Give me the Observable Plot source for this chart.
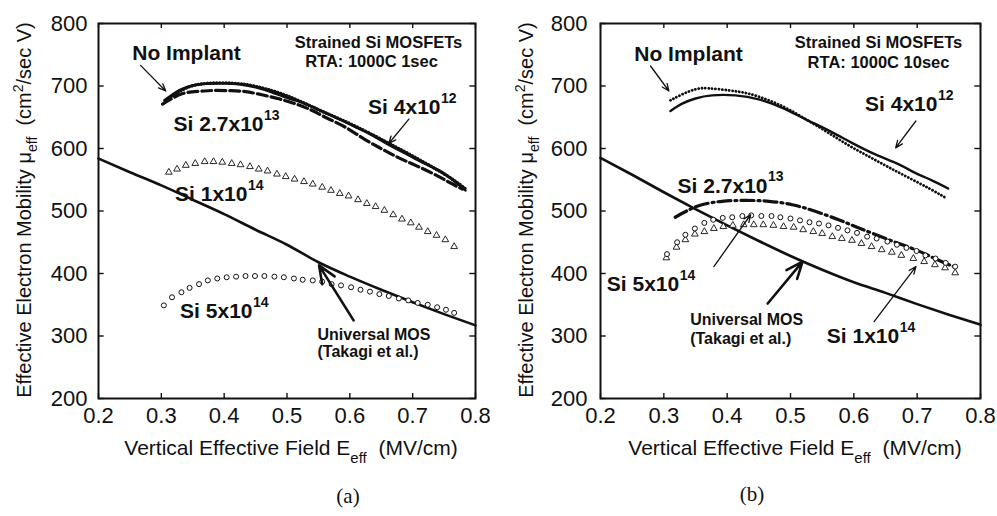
<!DOCTYPE html>
<html><head><meta charset="utf-8">
<script src="https://cdn.jsdelivr.net/npm/d3@7"></script>
<script src="https://cdn.jsdelivr.net/npm/@observablehq/plot@0.6"></script>
<style>
body{margin:0;background:#fff;}
#wrap{position:relative;width:997px;height:516px;overflow:hidden;background:#fff;}
.panel{position:absolute;top:0;}
.cap{position:absolute;font-family:"Liberation Serif","Times New Roman",serif;font-size:21px;color:#111;transform:translate(-50%,-50%);}
</style></head><body><div id="wrap"></div>
<script>
// ---------- axes ----------
const xTicks = [0.2, 0.3, 0.4, 0.5, 0.6, 0.7, 0.8];
const yTicks = [200, 300, 400, 500, 600, 700, 800];

// ---------- panel (a): RTA 1000C 1sec ----------
const aUnivX = [0.2,0.25,0.3,0.35,0.4,0.45,0.5,0.55,0.6,0.65,0.7,0.75,0.8];
const aUnivY = [584,562,541,518,495,470,446,418,395,374,354,335,317];
const aNoImplantX = [0.305,0.32,0.34,0.37,0.40,0.423,0.45,0.476,0.50,0.529,0.555,0.582,0.61,0.636,0.66,0.689,0.715,0.742,0.765,0.784];
const aNoImplantY = [677,688,698,703.5,704,703,698,690,681,671.5,660,647.5,634,621,607,592,578,565,549,533];
const aSi4e12X = [0.31,0.34,0.37,0.40,0.43,0.46,0.49,0.52,0.55,0.58,0.61,0.64,0.67,0.70,0.73,0.76,0.786];
const aSi4e12Y = [679,697,704,705,703,697,688,676,662,649,635,620,604,588,571,553,534];
const aSi27e13X = [0.302,0.333,0.36,0.381,0.41,0.434,0.46,0.487,0.515,0.54,0.565,0.593,0.62,0.646,0.67,0.699,0.73,0.758,0.779];
const aSi27e13Y = [671,687.5,691.5,692.8,692.5,691,686,679.5,671,660.8,648,634,617,602,589,575.5,561,546,535];
const aSi1e14X = [0.312,0.325,0.339,0.354,0.369,0.383,0.397,0.412,0.426,0.441,0.455,0.469,0.484,0.498,0.512,0.527,0.541,0.556,0.570,0.584,0.598,0.613,0.627,0.641,0.655,0.669,0.683,0.697,0.710,0.724,0.738,0.752,0.766];
const aSi1e14Y = [562,567,573,576,579,579,578,576,574,571,567,564,559,555,551,547,543,538,533,528,524,518,512,507,501,494,487,481,474,467,461,454,443];
const aSi5e14X = [0.304,0.317,0.332,0.345,0.36,0.374,0.389,0.404,0.419,0.434,0.449,0.464,0.480,0.495,0.511,0.525,0.541,0.556,0.571,0.586,0.602,0.617,0.632,0.647,0.662,0.678,0.693,0.708,0.724,0.739,0.753,0.766];
const aSi5e14Y = [349,362,370,377,383,389,392,394,395,396,396,396,395,394,392,390,389,387,383,381,378,374,371,367,364,360,357,353,350,346,342,337];
const aSiLabels = [
  {x:0.4626, y:639, base:"Si 2.7x10", sup:"13"},
  {x:0.7443, y:666, base:"Si 4x10", sup:"12"},
  {x:0.4371, y:527, base:"Si 1x10", sup:"14"},
  {x:0.4451, y:339, base:"Si 5x10", sup:"14"}
];
const aMain = [{x:0.340, y:752, text:"No Implant"}];
const aNotes = [{x:0.6457, y:770, text:"Strained Si MOSFETs"}, {x:0.6345, y:739, text:"RTA: 1000C 1sec"}];
const aRef = [{x:0.5486, y:302, text:"Universal MOS"}, {x:0.5486, y:275, text:"(Takagi et al.)"}];
const aThinArrows = [{x1:0.267,y1:733,x2:0.307,y2:692},{x1:0.694,y1:647,x2:0.662,y2:608}];
const aThickArrows = [{x1:0.606,y1:325,x2:0.551,y2:413}];

// ---------- panel (b): RTA 1000C 10sec ----------
const bUnivX = [0.2,0.25,0.3,0.35,0.4,0.45,0.5,0.55,0.6,0.65,0.7,0.75,0.8];
const bUnivY = [585,558,530,503,477,452,428,406,386,369,351,334,318];
const bNoImplantX = [0.3105,0.329,0.35,0.371,0.403,0.434,0.466,0.497,0.529,0.560,0.592,0.624,0.655,0.687,0.719,0.747];
const bNoImplantY = [677,686.7,694.7,696.3,693,687.7,677,662.6,644,625,605,587,570,553,536,520];
const bSi4e12X = [0.3105,0.329,0.35,0.376,0.413,0.45,0.487,0.524,0.560,0.597,0.634,0.671,0.697,0.724,0.749];
const bSi4e12Y = [660,671.7,680,685,685,678.7,665,646.6,629,609,590.5,574.5,561,548.7,536];
const bSi27e13X = [0.318,0.337,0.360,0.392,0.429,0.466,0.503,0.539,0.576,0.605,0.635,0.668,0.70,0.732,0.758];
const bSi27e13Y = [490,500.6,510,515.5,517,515.5,510,499.5,486,474,462,449,437,422,411];
const bSi5e14X = [0.305,0.321,0.334,0.349,0.364,0.378,0.393,0.408,0.424,0.438,0.454,0.47,0.484,0.5,0.515,0.53,0.545,0.56,0.575,0.59,0.605,0.621,0.636,0.653,0.668,0.683,0.699,0.713,0.729,0.745,0.76];
const bSi5e14Y = [431,450,462,472,481,486,489,490,492,493,492,492,490,488,485,482,480,477,473,469,465,459,456,451,446,441,436,429,424,417,411];
const bSi1e14X = [0.304,0.32,0.334,0.349,0.364,0.379,0.394,0.409,0.426,0.442,0.457,0.473,0.489,0.505,0.520,0.536,0.55,0.566,0.581,0.597,0.612,0.628,0.644,0.66,0.675,0.694,0.711,0.728,0.744,0.76];
const bSi1e14Y = [425,442,454,463,467,472,475,477,478,478,478,477,475,474,470,467,464,459,456,453,448,443,438,434,429,424,419,414,409,401];
const bSiLabels = [
  {x:0.4637, y:540, base:"Si 2.7x10", sup:"13"},
  {x:0.732, y:670, base:"Si 4x10", sup:"12"},
  {x:0.3243, y:383, base:"Si 5x10", sup:"14"},
  {x:0.6717, y:299, base:"Si 1x10", sup:"14"}
];
const bMain = [{x:0.339, y:751, text:"No Implant"}];
const bNotes = [{x:0.639, y:770, text:"Strained Si MOSFETs"}, {x:0.639, y:738, text:"RTA: 1000C 10sec"}];
const bRef = [{x:0.3416, y:326, text:"Universal MOS"}, {x:0.3416, y:295, text:"(Takagi et al.)"}];
const bThinArrows = [{x1:0.279,y1:732,x2:0.308,y2:692},{x1:0.698,y1:644,x2:0.666,y2:601},{x1:0.379,y1:411,x2:0.437,y2:494},{x1:0.632,y1:323,x2:0.698,y2:411}];
const bThickArrows = [{x1:0.464,y1:352,x2:0.519,y2:419}];

const captions = ["(a)", "(b)"];

// ---------- drawing ----------
const ink = "#111";
const FONT = "'Liberation Sans', Arial, Helvetica, sans-serif";
const pts = (xs, ys) => xs.map((x, i) => ({x, y: ys[i]}));

function panel(cfg) {
  const marks = [
    Plot.ruleX(xTicks, {x: d => d, y1: 200, y2: 208, stroke: ink, strokeWidth: 1.4}),
    Plot.ruleX(xTicks, {x: d => d, y1: 792, y2: 800, stroke: ink, strokeWidth: 1.4}),
    Plot.ruleY(yTicks, {y: d => d, x1: 0.2, x2: 0.209, stroke: ink, strokeWidth: 1.4}),
    Plot.ruleY(yTicks, {y: d => d, x1: 0.791, x2: 0.8, stroke: ink, strokeWidth: 1.4}),
    Plot.axisX(xTicks, {tickSize: 0, tickPadding: 9, tickFormat: d => d.toFixed(1), fontSize: 22, label: null, fill: ink}),
    Plot.axisY(yTicks, {tickSize: 0, tickPadding: cfg.yPad, fontSize: 22, label: null, fill: ink}),
    Plot.frame({stroke: ink, strokeWidth: 2}),
    Plot.line(pts(cfg.univX, cfg.univY), {x: "x", y: "y", stroke: ink, strokeWidth: 2.6, curve: "monotone-x"}),
    ...cfg.series,
    Plot.dot(pts(cfg.triX, cfg.triY), {x: "x", y: "y", symbol: "triangle", r: 2.5, stroke: ink, strokeWidth: 0.9, fill: "white"}),
    Plot.dot(pts(cfg.circX, cfg.circY), {x: "x", y: "y", symbol: "circle", r: 2.5, stroke: ink, strokeWidth: 1, fill: "white"}),
    Plot.arrow(cfg.thin, {x1: "x1", y1: "y1", x2: "x2", y2: "y2", stroke: ink, strokeWidth: 1.3, headLength: 9, headAngle: 45}),
    Plot.arrow(cfg.thick, {x1: "x1", y1: "y1", x2: "x2", y2: "y2", stroke: ink, strokeWidth: 2.6, headLength: 11, headAngle: 45}),
    Plot.text(cfg.main, {x: "x", y: "y", text: "text", fontSize: 21, fontWeight: "bold", fill: ink}),
    Plot.text(cfg.notes, {x: "x", y: "y", text: "text", fontSize: 16.5, fontWeight: "bold", fill: ink}),
    Plot.text(cfg.ref, {x: "x", y: "y", text: "text", fontSize: 16, fontWeight: "bold", fill: ink, textAnchor: "start"}),
    Plot.text(cfg.si, {x: "x", y: "y", text: "base", fontSize: 21, fontWeight: "bold", fill: ink, textAnchor: "end"}),
    Plot.text(cfg.si, {x: "x", y: "y", text: "sup", fontSize: 14, fontWeight: "bold", fill: ink, textAnchor: "start", dx: 0.5, dy: -9})
  ];
  const svg = Plot.plot({
    width: cfg.width, height: 470,
    marginLeft: cfg.ml, marginRight: cfg.mr, marginTop: 23, marginBottom: 72,
    x: {domain: [0.2, 0.8], label: null},
    y: {domain: [200, 800], label: null},
    style: {fontFamily: FONT, color: ink, background: "transparent", overflow: "visible"},
    marks
  });
  const s = d3.select(svg);
  // y-axis title with subscript/superscript
  const yt = s.append("text")
    .attr("transform", `translate(${cfg.ylabX},210) rotate(-90)`)
    .attr("text-anchor", "middle").attr("font-size", 20).attr("fill", ink).attr("font-family", FONT);
  yt.append("tspan").text("Effective Electron Mobility \u03bc");
  yt.append("tspan").attr("font-size", 14).attr("dy", 6).text("eff");
  yt.append("tspan").attr("dy", -6).text("\u00a0\u00a0(cm");
  yt.append("tspan").attr("font-size", 14).attr("dy", -8).text("2");
  yt.append("tspan").attr("dy", 8).text("/sec V)");
  // x-axis title
  const xt = s.append("text")
    .attr("transform", `translate(${cfg.xlabX},455)`)
    .attr("text-anchor", "middle").attr("font-size", 21).attr("fill", ink).attr("font-family", FONT);
  xt.append("tspan").text("Vertical Effective Field E");
  xt.append("tspan").attr("font-size", 15).attr("dy", 8).text("eff");
  xt.append("tspan").attr("dy", -8).text("\u00a0\u00a0(MV/cm)");
  svg.classList.add("panel");
  svg.style.left = cfg.left + "px";
  return svg;
}

const wrap = document.getElementById("wrap");

wrap.appendChild(panel({
  width: 498, left: 0, ml: 98, mr: 23, yPad: 11, ylabX: 31, xlabX: 291,
  univX: aUnivX, univY: aUnivY,
  triX: aSi1e14X, triY: aSi1e14Y, circX: aSi5e14X, circY: aSi5e14Y,
  series: [
    Plot.line(pts(aNoImplantX, aNoImplantY), {x: "x", y: "y", stroke: ink, strokeWidth: 2.6, curve: "natural"}),
    Plot.line(pts(aSi27e13X, aSi27e13Y), {x: "x", y: "y", stroke: ink, strokeWidth: 3.2, strokeDasharray: "10,4", curve: "natural"}),
    Plot.line(pts(aSi4e12X, aSi4e12Y), {x: "x", y: "y", stroke: ink, strokeWidth: 3.4, strokeDasharray: "0.1,3", strokeLinecap: "round", curve: "natural"})
  ],
  si: aSiLabels, main: aMain, notes: aNotes, ref: aRef, thin: aThinArrows, thick: aThickArrows
}));

wrap.appendChild(panel({
  width: 499, left: 498, ml: 102, mr: 17, yPad: 13, ylabX: 35, xlabX: 297,
  univX: bUnivX, univY: bUnivY,
  triX: bSi1e14X, triY: bSi1e14Y, circX: bSi5e14X, circY: bSi5e14Y,
  series: [
    Plot.line(pts(bSi4e12X, bSi4e12Y), {x: "x", y: "y", stroke: ink, strokeWidth: 2.4, curve: "natural"}),
    Plot.line(pts(bNoImplantX, bNoImplantY), {x: "x", y: "y", stroke: ink, strokeWidth: 2.8, strokeDasharray: "0.1,3.3", strokeLinecap: "round", curve: "natural"}),
    Plot.line(pts(bSi27e13X, bSi27e13Y), {x: "x", y: "y", stroke: ink, strokeWidth: 3.2, strokeDasharray: "13,4,2,4", curve: "natural"})
  ],
  si: bSiLabels, main: bMain, notes: bNotes, ref: bRef, thin: bThinArrows, thick: bThickArrows
}));

[[348, 496], [752, 494]].forEach((p, i) => {
  const d = document.createElement("div");
  d.className = "cap";
  d.style.left = p[0] + "px";
  d.style.top = p[1] + "px";
  d.textContent = captions[i];
  wrap.appendChild(d);
});
</script>
</body></html>
